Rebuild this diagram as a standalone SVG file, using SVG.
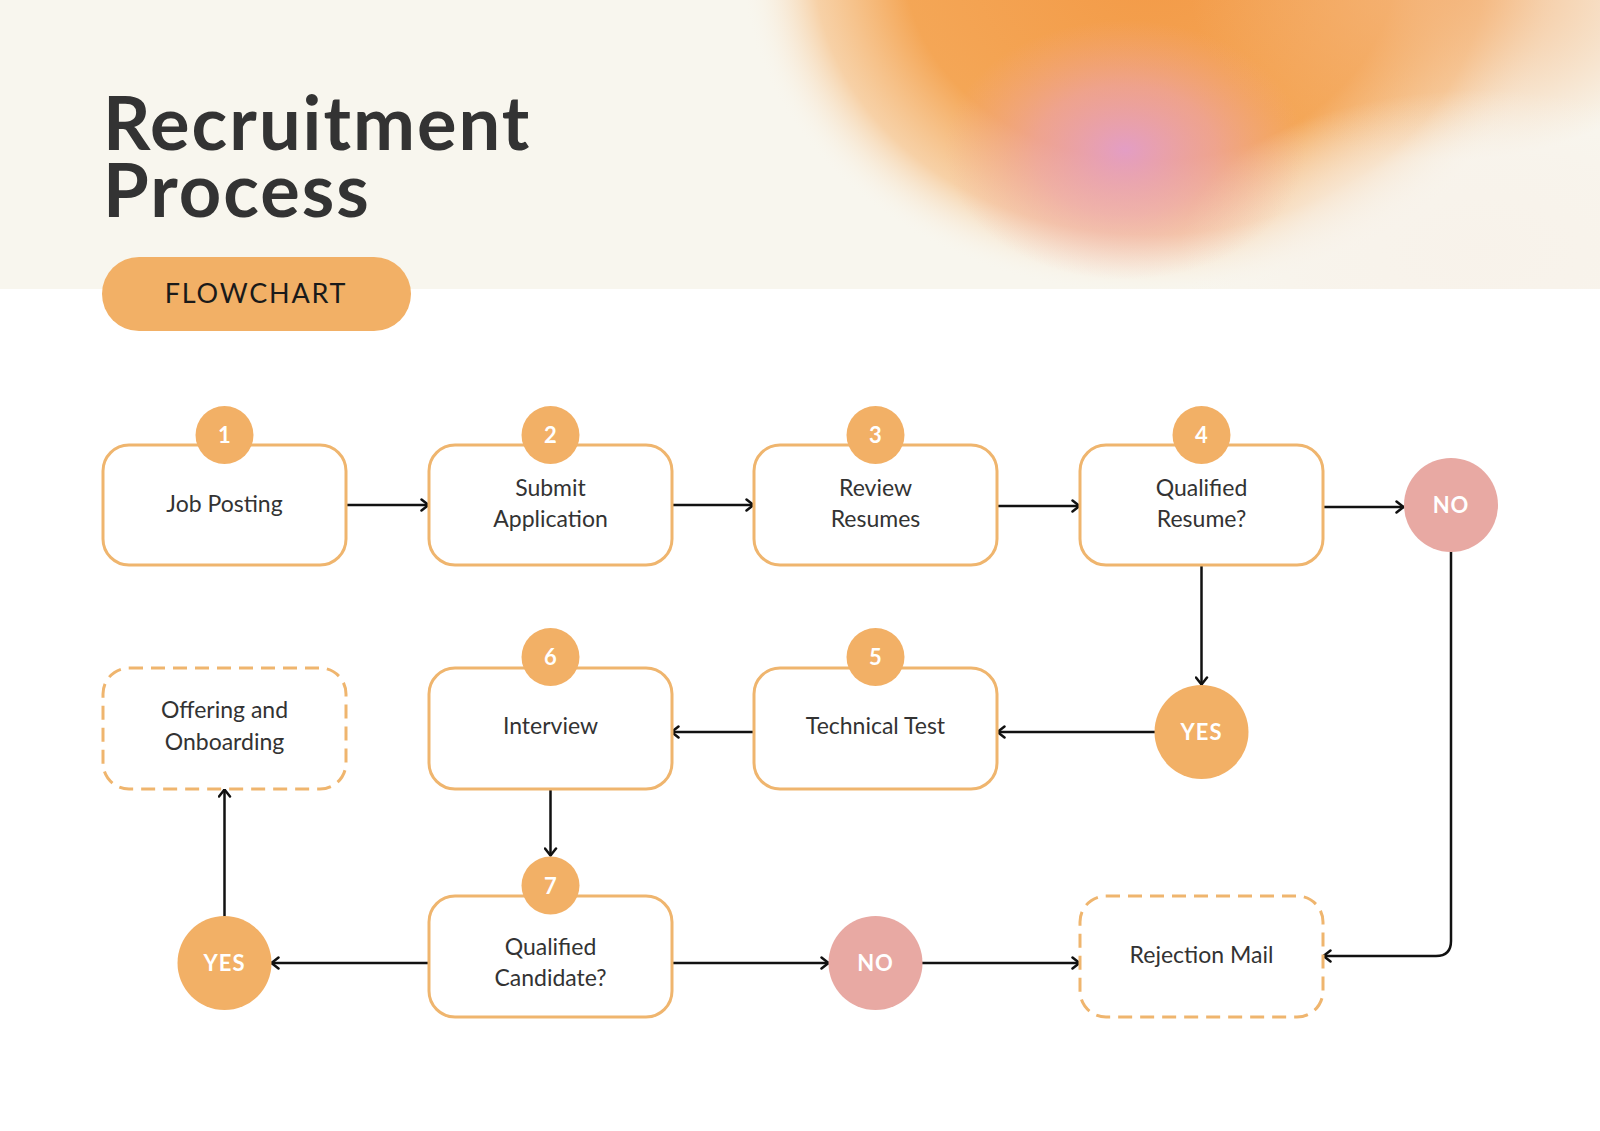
<svg xmlns="http://www.w3.org/2000/svg" width="1600" height="1131" viewBox="0 0 1600 1131">
  <defs>
    <style>
      .box { fill: #ffffff; stroke: #EFB56E; stroke-width: 3; }
      .dash { stroke-dasharray: 14 8; }
      .badge { fill: #F2B066; }
      .yes { fill: #F2B066; }
      .no { fill: #E8A9A3; }
      .lbl { font-family: Lato, "Open Sans", sans-serif; font-size: 23px; fill: #333333; text-anchor: middle; }
      .num { font-family: Lato, sans-serif; font-size: 22px; font-weight: 700; fill: #ffffff; text-anchor: middle; }
      .dec { font-family: Lato, sans-serif; font-size: 22px; font-weight: 700; fill: #ffffff; text-anchor: middle; letter-spacing: 1px; }
      .con { fill: none; stroke: #111111; stroke-width: 2.5; }
    </style>
    <marker id="arr" viewBox="0 0 12 14" refX="10.5" refY="7" markerWidth="12" markerHeight="14" markerUnits="userSpaceOnUse" orient="auto">
      <path d="M3,1.5 L10,7 L3,12.5" fill="none" stroke="#111111" stroke-width="2.5" stroke-linecap="round" stroke-linejoin="round"/>
    </marker>
    <clipPath id="band"><rect x="0" y="0" width="1600" height="289"/></clipPath>
    <radialGradient id="gOrange" cx="0.5" cy="0.5" r="0.5">
      <stop offset="0" stop-color="#F39A47" stop-opacity="1"/>
      <stop offset="0.6" stop-color="#F4A24E" stop-opacity="0.95"/>
      <stop offset="0.82" stop-color="#F6B877" stop-opacity="0.6"/>
      <stop offset="1" stop-color="#F8F6EE" stop-opacity="0"/>
    </radialGradient>
    <radialGradient id="gPink" cx="0.5" cy="0.5" r="0.5">
      <stop offset="0" stop-color="#E09CD8" stop-opacity="0.85"/>
      <stop offset="0.5" stop-color="#EAA2BC" stop-opacity="0.55"/>
      <stop offset="1" stop-color="#F0A9A0" stop-opacity="0"/>
    </radialGradient>
    <radialGradient id="gCream" cx="0.5" cy="0.5" r="0.5">
      <stop offset="0" stop-color="#F8F2EA" stop-opacity="0.95"/>
      <stop offset="0.6" stop-color="#F8F2EA" stop-opacity="0.6"/>
      <stop offset="1" stop-color="#F8F2EA" stop-opacity="0"/>
    </radialGradient>
    <radialGradient id="gTR" cx="0.5" cy="0.5" r="0.5">
      <stop offset="0" stop-color="#F4B47A" stop-opacity="0.9"/>
      <stop offset="1" stop-color="#F4B47A" stop-opacity="0"/>
    </radialGradient>
  </defs>

  <rect x="0" y="0" width="1600" height="1131" fill="#ffffff"/>
  <g id="header">
    <rect x="0" y="0" width="1600" height="289" fill="#F8F6EE"/>
    <g clip-path="url(#band)">
      <ellipse cx="1150" cy="-40" rx="410" ry="335" fill="url(#gOrange)"/>
      <ellipse cx="1450" cy="-10" rx="260" ry="170" fill="url(#gTR)"/>
      <ellipse cx="1480" cy="250" rx="300" ry="160" fill="url(#gCream)"/>
      <ellipse cx="1125" cy="150" rx="180" ry="130" fill="url(#gPink)"/>
    </g>
    <text font-family="Lato, sans-serif" font-size="74" font-weight="700" fill="#333333" letter-spacing="2"><tspan x="103" y="150">Recruitment</tspan><tspan x="103" y="217">Process</tspan></text>
  </g>

  <g id="flowchart-pill">
    <rect x="102" y="257" width="309" height="74" rx="37" fill="#F2B066"/>
    <text x="256" y="303" font-family="Lato, sans-serif" font-size="27" fill="#1a1a1a" text-anchor="middle" letter-spacing="1.8">FLOWCHART</text>
  </g>

  <g id="connectors">
    <line class="con" x1="346" y1="505" x2="429" y2="505" marker-end="url(#arr)"/>
    <line class="con" x1="671" y1="505" x2="754" y2="505" marker-end="url(#arr)"/>
    <line class="con" x1="997" y1="506" x2="1080" y2="506" marker-end="url(#arr)"/>
    <line class="con" x1="1322" y1="507" x2="1404" y2="507" marker-end="url(#arr)"/>
    <line class="con" x1="1201.5" y1="566" x2="1201.5" y2="685" marker-end="url(#arr)"/>
    <path class="con" d="M1451,551 V941 Q1451,956 1436,956 H1323" marker-end="url(#arr)"/>
    <line class="con" x1="1155" y1="732" x2="997" y2="732" marker-end="url(#arr)"/>
    <line class="con" x1="754" y1="732" x2="671" y2="732" marker-end="url(#arr)"/>
    <line class="con" x1="550.5" y1="790" x2="550.5" y2="856" marker-end="url(#arr)"/>
    <line class="con" x1="429" y1="963" x2="271" y2="963" marker-end="url(#arr)"/>
    <line class="con" x1="224.5" y1="917" x2="224.5" y2="789" marker-end="url(#arr)"/>
    <line class="con" x1="671" y1="963" x2="829" y2="963" marker-end="url(#arr)"/>
    <line class="con" x1="922" y1="963" x2="1080" y2="963" marker-end="url(#arr)"/>
  </g>

  <g id="step1">
    <rect class="box" x="103" y="445" width="243" height="120" rx="26"/>
    <circle class="badge" cx="224.5" cy="435" r="29"/>
    <text class="num" x="224.5" y="443">1</text>
    <text class="lbl" x="224.5" y="512">Job Posting</text>
  </g>
  <g id="step2">
    <rect class="box" x="429" y="445" width="243" height="120" rx="26"/>
    <circle class="badge" cx="550.5" cy="435" r="29"/>
    <text class="num" x="550.5" y="443">2</text>
    <text class="lbl" x="550.5" y="496">Submit</text>
    <text class="lbl" x="550.5" y="527">Application</text>
  </g>
  <g id="step3">
    <rect class="box" x="754" y="445" width="243" height="120" rx="26"/>
    <circle class="badge" cx="875.5" cy="435" r="29"/>
    <text class="num" x="875.5" y="443">3</text>
    <text class="lbl" x="875.5" y="496">Review</text>
    <text class="lbl" x="875.5" y="527">Resumes</text>
  </g>
  <g id="step4">
    <rect class="box" x="1080" y="445" width="243" height="120" rx="26"/>
    <circle class="badge" cx="1201.5" cy="435" r="29"/>
    <text class="num" x="1201.5" y="443">4</text>
    <text class="lbl" x="1201.5" y="496">Qualified</text>
    <text class="lbl" x="1201.5" y="527">Resume?</text>
  </g>
  <g id="no1">
    <circle class="no" cx="1451" cy="505" r="47"/>
    <text class="dec" x="1451" y="513">NO</text>
  </g>
  <g id="yes1">
    <circle class="yes" cx="1201.5" cy="732" r="47"/>
    <text class="dec" x="1201.5" y="740">YES</text>
  </g>
  <g id="step5">
    <rect class="box" x="754" y="668" width="243" height="121" rx="26"/>
    <circle class="badge" cx="875.5" cy="657" r="29"/>
    <text class="num" x="875.5" y="665">5</text>
    <text class="lbl" x="875.5" y="734">Technical Test</text>
  </g>
  <g id="step6">
    <rect class="box" x="429" y="668" width="243" height="121" rx="26"/>
    <circle class="badge" cx="550.5" cy="657" r="29"/>
    <text class="num" x="550.5" y="665">6</text>
    <text class="lbl" x="550.5" y="734">Interview</text>
  </g>
  <g id="offering">
    <rect class="box dash" x="103" y="668" width="243" height="121" rx="26"/>
    <text class="lbl" x="224.5" y="718">Offering and</text>
    <text class="lbl" x="224.5" y="750">Onboarding</text>
  </g>
  <g id="step7">
    <rect class="box" x="429" y="896" width="243" height="121" rx="26"/>
    <circle class="badge" cx="550.5" cy="885.5" r="29"/>
    <text class="num" x="550.5" y="894">7</text>
    <text class="lbl" x="550.5" y="955">Qualified</text>
    <text class="lbl" x="550.5" y="986">Candidate?</text>
  </g>
  <g id="yes2">
    <circle class="yes" cx="224.5" cy="963" r="47"/>
    <text class="dec" x="224.5" y="971">YES</text>
  </g>
  <g id="no2">
    <circle class="no" cx="875.5" cy="963" r="47"/>
    <text class="dec" x="875.5" y="971">NO</text>
  </g>
  <g id="rejection">
    <rect class="box dash" x="1080" y="896" width="243" height="121" rx="26"/>
    <text class="lbl" x="1201.5" y="963">Rejection Mail</text>
  </g>
</svg>
